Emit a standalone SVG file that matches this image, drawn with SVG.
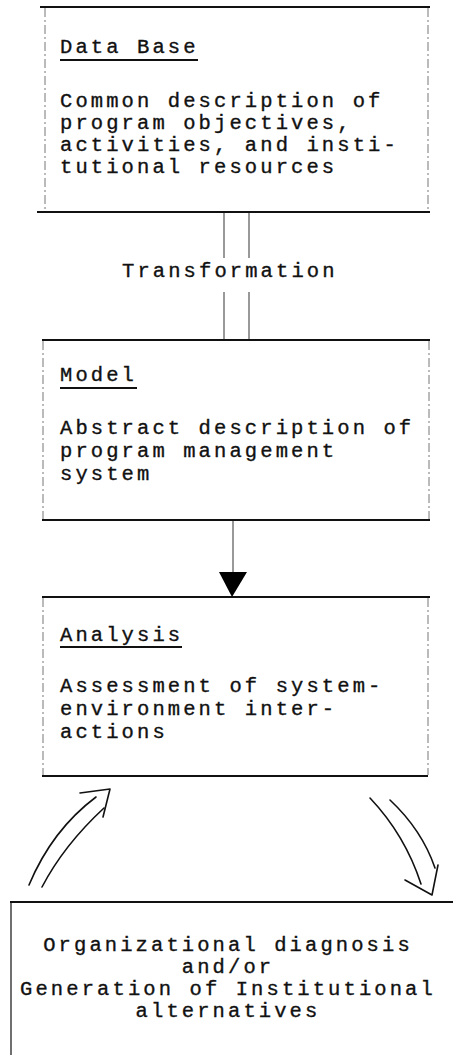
<svg xmlns="http://www.w3.org/2000/svg" width="453" height="1055" viewBox="0 0 453 1055">
<style>
.t{font-family:"Liberation Mono","DejaVu Sans Mono",monospace;font-size:20.5px;letter-spacing:3.1px;fill:#111;stroke:#111;stroke-width:0.35}
.c{text-anchor:middle}
.h{stroke:#111;stroke-width:2.2;fill:none}
.s{stroke:#777;stroke-width:1;stroke-dasharray:9 3 2 3;fill:none}
.u{stroke:#111;stroke-width:2;fill:none}
.l{stroke:#555;stroke-width:1.2;fill:none}
.a{stroke:#111;stroke-width:1.6;fill:none;stroke-linecap:round;stroke-linejoin:round}
</style>
<rect width="453" height="1055" fill="#fff"/>
<g id="database">
<line class="h" x1="40" y1="7" x2="430" y2="7"/>
<line class="h" x1="37" y1="212" x2="430" y2="212"/>
<line class="s" x1="45" y1="8" x2="45" y2="211"/>
<line class="s" x1="428" y1="8" x2="428" y2="211"/>
<text class="t" x="60" y="53">Data Base</text>
<line class="u" x1="60" y1="60" x2="198" y2="60"/>
<text class="t" x="60" y="107">Common description of</text>
<text class="t" x="60" y="129">program objectives,</text>
<text class="t" x="60" y="151">activities, and insti-</text>
<text class="t" x="60" y="173">tutional resources</text>
</g>
<g id="model">
<line class="h" x1="42" y1="340" x2="430" y2="340"/>
<line class="h" x1="42" y1="520" x2="430" y2="520"/>
<line class="s" x1="43" y1="341" x2="43" y2="519"/>
<line class="s" x1="429" y1="341" x2="429" y2="519"/>
<text class="t" x="60" y="381">Model</text>
<line class="u" x1="60" y1="388" x2="137" y2="388"/>
<text class="t" x="60" y="434">Abstract description of</text>
<text class="t" x="60" y="457">program management</text>
<text class="t" x="60" y="480">system</text>
</g>
<g id="analysis">
<line class="h" x1="42" y1="597" x2="430" y2="597"/>
<line class="h" x1="42" y1="776" x2="428" y2="776"/>
<line class="s" x1="43" y1="598" x2="43" y2="775"/>
<line class="s" x1="428" y1="598" x2="428" y2="775"/>
<text class="t" x="60" y="641">Analysis</text>
<line class="u" x1="60" y1="647" x2="182" y2="647"/>
<text class="t" x="60" y="692">Assessment of system-</text>
<text class="t" x="60" y="715">environment inter-</text>
<text class="t" x="60" y="738">actions</text>
</g>
<g id="diagnosis">
<line class="h" x1="10" y1="902" x2="453" y2="902"/>
<line x1="11" y1="903" x2="11" y2="1055" stroke="#333" stroke-width="1.4"/>
<text class="t c" x="228" y="951">Organizational diagnosis</text>
<text class="t c" x="228" y="973">and/or</text>
<text class="t c" x="228" y="995">Generation of Institutional</text>
<text class="t c" x="228" y="1017">alternatives</text>
</g>
<g id="connectors">
<line class="l" x1="224" y1="213" x2="224" y2="258"/>
<line class="l" x1="249" y1="213" x2="249" y2="258"/>
<text class="t" x="122" y="277">Transformation</text>
<line class="l" x1="224" y1="292" x2="224" y2="339"/>
<line class="l" x1="249" y1="292" x2="249" y2="339"/>
<line class="l" x1="233" y1="521" x2="233" y2="574"/>
<polygon points="219,572 247,572 232,597" fill="#000"/>
<path class="a" d="M29,885 Q52,830 96,797"/>
<path class="a" d="M42,887 Q64,845 104,808"/>
<path class="a" d="M80,793 L110,789 L103,817"/>
<path class="a" d="M370,798 Q405,835 421,884"/>
<path class="a" d="M390,800 Q422,830 435,868"/>
<path class="a" d="M405,880 L432,895 L438,865"/>
</g>
</svg>
